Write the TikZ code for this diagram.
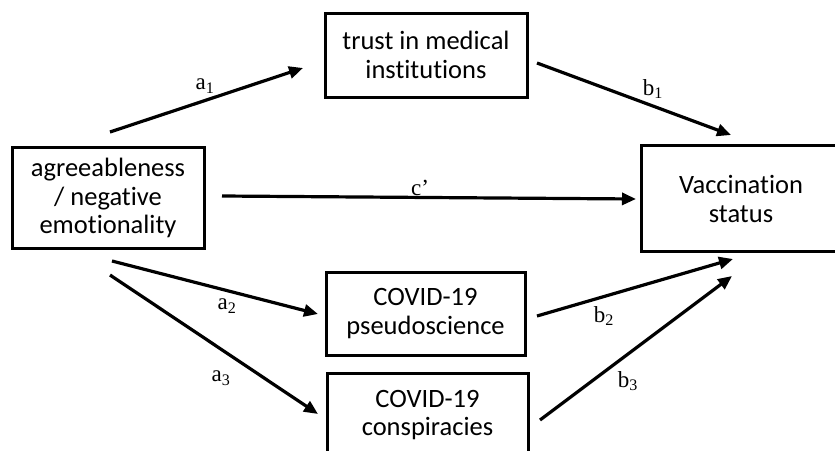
\documentclass[tikz,border=0pt]{standalone}
\usepackage{fontspec}
\setmainfont{Liberation Serif}
\newfontfamily\boxfont[Ligatures=NoCommon]{Carlito}
\usetikzlibrary{arrows.meta}

\begin{document}
\begin{tikzpicture}[x=1pt,y=-1pt,>={Triangle[length=14pt,width=12pt]},
  box/.style={draw,line width=3pt,align=center,inner sep=0pt,font=\boxfont\fontsize{26.5}{28.5}\selectfont},
  path/.style={->,line width=3.2pt},
  coef/.style={font=\fontsize{23}{26}\selectfont}]
  \useasboundingbox (0,0) rectangle (835,450);
  % variables
  \node[box,minimum width=192pt,minimum height=101pt] (agree) at (108,198) {agreeableness\\/ negative\\emotionality};
  \node[box,minimum width=202pt,minimum height=84pt] (trust) at (426,55) {trust in medical\\institutions};
  \node[box,draw=none,minimum width=200pt,minimum height=103pt] (vacc) at (743,198.5) {};
  \draw[line width=3pt] (vacc.north east) -- (vacc.north west) -- (vacc.south west) -- (vacc.south east);
  \node[box,draw=none] (vacctext) at (741,199) {Vaccination\\status};
  \node[box,minimum width=199pt,minimum height=83pt] (pseudo) at (425.5,313.5) {COVID-19\\pseudoscience};
  \node[box,minimum width=201pt,minimum height=84pt] (consp) at (427.5,415) {COVID-19\\conspiracies};
  % free ends of the paths
  \coordinate (a1s) at (110,132); \coordinate (a1e) at (303,68);
  \coordinate (b1s) at (537,63);  \coordinate (b1e) at (731,135);
  \coordinate (cs) at (222,196);  \coordinate (ce) at (636,199);
  \coordinate (a2s) at (112,261); \coordinate (a2e) at (318,314);
  \coordinate (a3s) at (110,275); \coordinate (a3e) at (318,414);
  \coordinate (b2s) at (537,316); \coordinate (b2e) at (733,259);
  \coordinate (b3s) at (540,420); \coordinate (b3e) at (732,276);
  \draw[path] (a1s)--(a1e); \draw[path] (b1s)--(b1e);
  \draw[path] (cs)--(ce);
  \draw[path] (a2s)--(a2e); \draw[path] (a3s)--(a3e);
  \draw[path] (b2s)--(b2e); \draw[path] (b3s)--(b3e);
  % coefficients
  \node[coef] (la1) at (205,86) {a\textsubscript{1}};
  \node[coef] (lb1) at (653,89) {b\textsubscript{1}};
  \node[coef] (lc) at (420,188) {c’};
  \node[coef] (la2) at (227,306) {a\textsubscript{2}};
  \node[coef] (la3) at (221,378) {a\textsubscript{3}};
  \node[coef] (lb2) at (604,316) {b\textsubscript{2}};
  \node[coef] (lb3) at (628,381) {b\textsubscript{3}};
\end{tikzpicture}
\end{document}
